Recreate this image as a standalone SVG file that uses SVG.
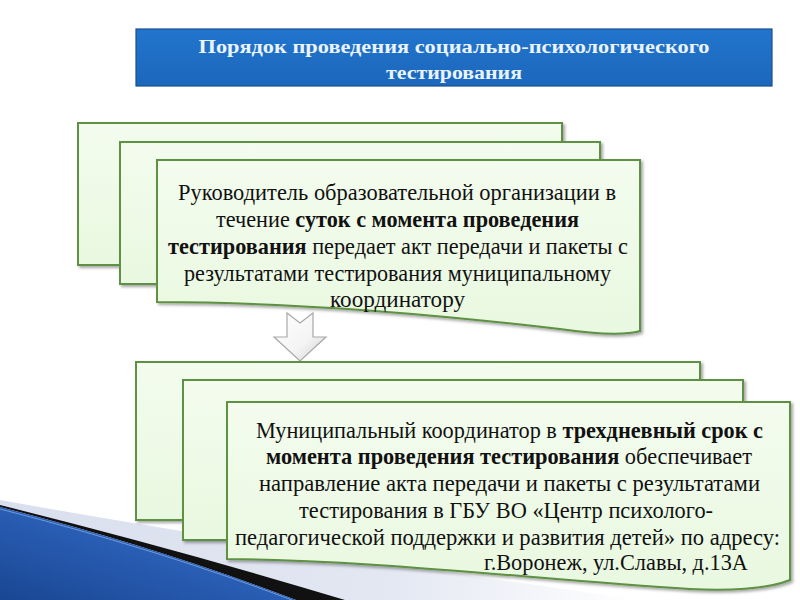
<svg xmlns="http://www.w3.org/2000/svg" width="800" height="600" viewBox="0 0 800 600">
<defs>
<linearGradient id="cardFill" x1="0" y1="0" x2="0" y2="1">
<stop offset="0" stop-color="#f3fcee"/>
<stop offset="1" stop-color="#e9f8e0"/>
</linearGradient>
<linearGradient id="titleFill" x1="0" y1="0" x2="0" y2="1">
<stop offset="0" stop-color="#2274cc"/>
<stop offset="1" stop-color="#1b68bd"/>
</linearGradient>
<linearGradient id="arrowFill" x1="0" y1="0" x2="1" y2="1">
<stop offset="0" stop-color="#ffffff"/>
<stop offset="0.6" stop-color="#f4f4f4"/>
<stop offset="1" stop-color="#cfcfcf"/>
</linearGradient>
<linearGradient id="blueFill" x1="0" y1="1" x2="1" y2="0">
<stop offset="0" stop-color="#1a4693"/>
<stop offset="0.6" stop-color="#2c63bb"/>
<stop offset="1" stop-color="#4d8be0"/>
</linearGradient>
<linearGradient id="lavFill" x1="0" y1="0" x2="1" y2="0">
<stop offset="0" stop-color="#d9dfee"/>
<stop offset="0.6" stop-color="#e3e7f2"/>
<stop offset="1" stop-color="#ffffff"/>
</linearGradient>
<filter id="sh" x="-5%" y="-5%" width="115%" height="120%">
<feDropShadow dx="2" dy="2" stdDeviation="1.5" flood-color="#000" flood-opacity="0.35"/>
</filter>
</defs>
<style>
.card{fill:url(#cardFill);stroke:#5e9142;stroke-width:2;filter:url(#sh);}
.txt{font-family:'Liberation Serif','Times New Roman',serif;font-size:22.5px;fill:#111;text-anchor:middle;}
.b{font-weight:bold;}
.ttl{font-family:'Liberation Serif','Times New Roman',serif;font-size:19px;font-weight:bold;fill:#eaf4ff;text-anchor:middle;}
</style>
<rect width="800" height="600" fill="#ffffff"/>

<g id="decoration">
<path d="M0,500 Q 250,545 640,600 L0,600 Z" fill="url(#lavFill)"/>
<path d="M0,505 Q 180,550 345,600 L296,600 Q 160,548 0,507 Z" fill="#111111"/>
<path d="M0,507 Q 160,548 296,600 L0,600 Z" fill="url(#blueFill)"/>
<path d="M0,509 Q 160,550 292,600" fill="none" stroke="#8fb4ea" stroke-width="1" opacity="0.7"/>
</g>

<g id="title">
<rect x="136" y="29" width="636" height="57" fill="url(#titleFill)" stroke="#1a4f8f" stroke-width="1.2"/>
<text class="ttl" x="454" y="53" textLength="511" lengthAdjust="spacingAndGlyphs">Порядок проведения социально-психологического</text>
<text class="ttl" x="454" y="79" textLength="136" lengthAdjust="spacingAndGlyphs">тестирования</text>
</g>

<g id="step1">
<rect class="card" x="78" y="123" width="484" height="142"/>
<rect class="card" x="120" y="142" width="480" height="142"/>
<path class="card" d="M157,160 H640 V331 C 622,336 595,334 560,329 C 450,316 300,302 157,302 Z"/>
<text class="txt" x="397" y="200" textLength="438" lengthAdjust="spacingAndGlyphs">Руководитель образовательной организации в</text>
<text class="txt" x="397.5" y="227" textLength="363" lengthAdjust="spacingAndGlyphs">течение <tspan class="b">суток с момента проведения</tspan></text>
<text class="txt" x="398" y="254" textLength="460" lengthAdjust="spacingAndGlyphs"><tspan class="b">тестирования</tspan> передает акт передачи и пакеты с</text>
<text class="txt" x="397.5" y="281" textLength="427" lengthAdjust="spacingAndGlyphs">результатами тестирования муниципальному</text>
<text class="txt" x="397.5" y="307" textLength="135" lengthAdjust="spacingAndGlyphs">координатору</text>
</g>

<g id="connectors">
<path d="M287,313 L300,323 L313,313 L313,337 L326,337 L300,361 L274,337 L287,337 Z" fill="url(#arrowFill)" stroke="#a8a8a8" stroke-width="1.2"/>
</g>

<g id="step2">
<rect class="card" x="136" y="362" width="564" height="158"/>
<rect class="card" x="183" y="380" width="560" height="160"/>
<path class="card" d="M227,402 H790 V580 C 770,588 735,591 690,589 C 540,580 380,560 227,559 Z"/>
<text class="txt" x="509.5" y="438" textLength="507" lengthAdjust="spacingAndGlyphs">Муниципальный координатор в <tspan class="b">трехдневный срок с</tspan></text>
<text class="txt" x="509" y="464" textLength="486" lengthAdjust="spacingAndGlyphs"><tspan class="b">момента проведения тестирования</tspan> обеспечивает</text>
<text class="txt" x="509.5" y="491" textLength="501" lengthAdjust="spacingAndGlyphs">направление акта передачи  и пакеты с результатами</text>
<text class="txt" x="506" y="518" textLength="414" lengthAdjust="spacingAndGlyphs">тестирования в ГБУ ВО «Центр психолого-</text>
<text class="txt" x="507.5" y="545" textLength="545" lengthAdjust="spacingAndGlyphs">педагогической поддержки и развития детей» по адресу:</text>
<text class="txt" x="616" y="570" textLength="264" lengthAdjust="spacingAndGlyphs">г.Воронеж, ул.Славы, д.13А</text>
</g>
</svg>
